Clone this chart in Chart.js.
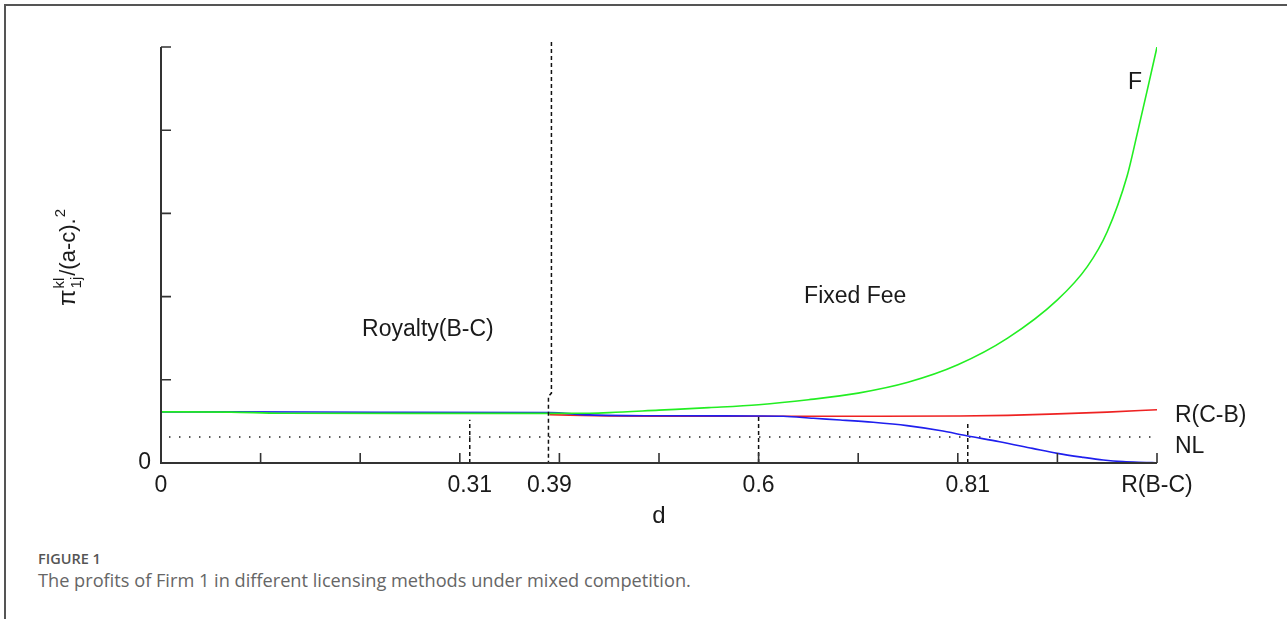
<!DOCTYPE html>
<html>
<head>
<meta charset="utf-8">
<script src="https://cdn.jsdelivr.net/npm/chart.js@4"></script>
<style>
  html, body { margin: 0; padding: 0; background: #fff; }
  body { width: 1287px; height: 619px; position: relative; overflow: hidden; }
  #frame { position: absolute; left: 4px; top: 4px; width: 1300px; height: 640px;
           border-top: 2px solid #555; border-left: 2px solid #555; }
  #plot { position: absolute; left: 0; top: 0; }
  .fig { position: absolute; left: 38px; top: 549px; font: 600 14.5px "Open Sans", sans-serif; color: #555; }
  .cap { position: absolute; left: 38px; top: 568px; font: 400 18.2px "Open Sans", sans-serif; color: #666; }
</style>
</head>
<body>
<div id="frame"></div>
<canvas id="plot" width="1287" height="531"></canvas>
<div class="fig">FIGURE 1</div>
<div class="cap">The profits of Firm 1 in different licensing methods under mixed competition.</div>

<script>
// Fixed-fee licensing profit F
const dF       = [0, 0.07, 0.12, 0.25, 0.39, 0.43, 0.45, 0.5, 0.55, 0.6, 0.65, 0.7, 0.75, 0.8, 0.85, 0.9, 0.93, 0.95, 0.97, 0.98, 0.99, 1.0];
const fixedFee = [0.615, 0.612, 0.598, 0.596, 0.596, 0.598, 0.605, 0.635, 0.665, 0.70, 0.76, 0.84, 0.97, 1.18, 1.50, 1.96, 2.36, 2.78, 3.45, 3.95, 4.47, 5.0];

// Royalty licensing profit R(B-C)
const dBC       = [0, 0.07, 0.22, 0.39, 0.43, 0.5, 0.6, 0.625, 0.655, 0.682, 0.715, 0.749, 0.782, 0.81, 0.842, 0.875, 0.9, 0.926, 0.946, 0.966, 0.995, 1.0];
const royaltyBC = [0.615, 0.615, 0.61, 0.605, 0.578, 0.568, 0.565, 0.562, 0.537, 0.517, 0.489, 0.449, 0.39, 0.325, 0.256, 0.176, 0.116, 0.068, 0.036, 0.016, 0.004, 0];

// Royalty licensing profit R(C-B)
const dCB       = [0.39, 0.45, 0.5, 0.6, 0.7, 0.8, 0.85, 0.9, 0.95, 1.0];
const royaltyCB = [0.58, 0.566, 0.563, 0.562, 0.562, 0.565, 0.572, 0.59, 0.612, 0.64];

// No-licensing level NL
const dNL = [0.008, 1.0];
const noLicense = 0.3125;

// Threshold markers (d value and height of the dashed drop line)
const markerD   = [0.31, 0.6, 0.81];
const markerTop = [0.52, 0.58, 0.49];
// Regime boundary between royalty and fixed fee
const boundaryD = [0.392, 0.392, 0.389, 0.389];
const boundaryY = [5.06, 0.84, 0.8, 0];

// Axis ticks and labels
const xTickMarks  = [0, 0.1, 0.2, 0.3, 0.4, 0.5, 0.6, 0.7, 0.8, 0.9, 1.0];
const yTickMarks  = [0, 1, 2, 3, 4, 5];
const xLabelVals  = [0, 0.31, 0.39, 0.6, 0.81, 1.0];
const xLabelText  = ['0', '0.31', '0.39', '0.6', '0.81', 'R(B-C)'];
const yLabelVals  = [0];
const yLabelText  = ['0'];

// Text placed inside the plot (data coordinates)
const notes = [
  { text: 'Royalty(B-C)', d: 0.268, v: 1.60, align: 'center' },
  { text: 'Fixed Fee',    d: 0.697, v: 2.00, align: 'center' },
  { text: 'F',            d: 0.978, v: 4.57, align: 'center' },
  { text: 'R(C-B)',       d: 1.018, v: 0.57, align: 'left' },
  { text: 'NL',           d: 1.018, v: 0.20, align: 'left' }
];

const FONT = '"Liberation Sans", Arial, sans-serif';
const INK = '#1a1a1a';

const pts = (xs, ys) => xs.map((v, i) => ({ x: v, y: ys[i] }));

const markerSets = markerD.map((d, i) => ({
  label: 'm' + d,
  data: [{ x: d, y: 0 }, { x: d, y: markerTop[i] }],
  borderColor: '#111', borderWidth: 1.5, borderDash: [4, 3]
}));

const decor = {
  id: 'decor',
  afterDatasetsDraw(chart) {
    const { ctx, chartArea: a, scales: { x, y } } = chart;
    ctx.save();
    // axis lines
    ctx.strokeStyle = '#333';
    ctx.lineWidth = 2;
    ctx.beginPath();
    ctx.moveTo(a.left, a.top);
    ctx.lineTo(a.left, a.bottom);
    ctx.lineTo(a.right, a.bottom);
    ctx.stroke();
    // inward tick marks
    ctx.lineWidth = 1.6;
    ctx.beginPath();
    xTickMarks.forEach(v => {
      const px = x.getPixelForValue(v);
      ctx.moveTo(px, a.bottom);
      ctx.lineTo(px, a.bottom - 10);
    });
    yTickMarks.forEach(v => {
      const py = y.getPixelForValue(v);
      ctx.moveTo(a.left, py);
      ctx.lineTo(a.left + 10, py);
    });
    ctx.stroke();

    // in-plot labels
    ctx.fillStyle = INK;
    ctx.font = '23px ' + FONT;
    ctx.textBaseline = 'middle';
    notes.forEach(n => {
      ctx.textAlign = n.align;
      ctx.fillText(n.text, x.getPixelForValue(n.d), y.getPixelForValue(n.v));
    });

    // vertical axis title: pi^{kl}_{1j}/(a-c).^2
    ctx.translate(a.left - 86, a.top + 259);
    ctx.rotate(-Math.PI / 2);
    ctx.textAlign = 'left';
    ctx.textBaseline = 'alphabetic';
    let cx = 0;
    ctx.font = '24px ' + FONT;
    ctx.fillText('\u03C0', cx, 0);
    cx += ctx.measureText('\u03C0').width + 1;
    ctx.font = '15px ' + FONT;
    ctx.fillText('kl', cx, -11);
    ctx.fillText('1j', cx, 6);
    cx += Math.max(ctx.measureText('kl').width, ctx.measureText('1j').width) + 1;
    ctx.font = '22px ' + FONT;
    ctx.fillText('/(a-c).', cx, 0);
    cx += ctx.measureText('/(a-c).').width + 1;
    ctx.font = '15px ' + FONT;
    ctx.fillText('2', cx, -10);
    ctx.restore();
  }
};

new Chart(document.getElementById('plot'), {
  type: 'line',
  data: {
    datasets: [
      ...markerSets,
      {
        label: 'boundary',
        data: pts(boundaryD, boundaryY),
        borderColor: '#111', borderWidth: 1.5, borderDash: [4, 3], clip: false
      },
      { label: 'F', data: pts(dF, fixedFee), borderColor: '#22ee22', borderWidth: 1.6, cubicInterpolationMode: 'monotone' },
      { label: 'R(B-C)', data: pts(dBC, royaltyBC), borderColor: '#1f1fee', borderWidth: 1.6, cubicInterpolationMode: 'monotone' },
      { label: 'R(C-B)', data: pts(dCB, royaltyCB), borderColor: '#ee2222', borderWidth: 1.6, cubicInterpolationMode: 'monotone' },
      {
        label: 'NL',
        data: pts(dNL, [noLicense, noLicense]),
        borderColor: '#222', borderWidth: 1.5, borderDash: [1.5, 8.5]
      }
    ]
  },
  options: {
    responsive: false,
    animation: false,
    events: [],
    layout: { padding: { left: 0, top: 47, right: 130, bottom: 0 } },
    elements: { point: { radius: 0 }, line: { tension: 0, fill: false } },
    plugins: { legend: { display: false }, tooltip: { enabled: false } },
    scales: {
      x: {
        type: 'linear', min: 0, max: 1,
        grid: { display: false, drawTicks: false },
        border: { display: false },
        afterBuildTicks: s => { s.ticks = xLabelVals.map(v => ({ value: v })); },
        afterFit: s => { s.height = 68; },
        ticks: {
          autoSkip: false, maxRotation: 0, minRotation: 0, padding: 9,
          color: INK, font: { family: FONT, size: 23 },
          callback: (v, i) => xLabelText[i]
        },
        title: { display: true, text: 'd', color: INK, font: { family: FONT, size: 24 }, padding: 0 }
      },
      y: {
        type: 'linear', min: 0, max: 5,
        grid: { display: false, drawTicks: false },
        border: { display: false },
        afterBuildTicks: s => { s.ticks = yLabelVals.map(v => ({ value: v })); },
        afterFit: s => { s.width = 161; },
        ticks: {
          padding: 10, color: INK, font: { family: FONT, size: 23 },
          callback: (v, i) => yLabelText[i]
        }
      }
    }
  },
  plugins: [decor]
});
</script>
</body>
</html>
